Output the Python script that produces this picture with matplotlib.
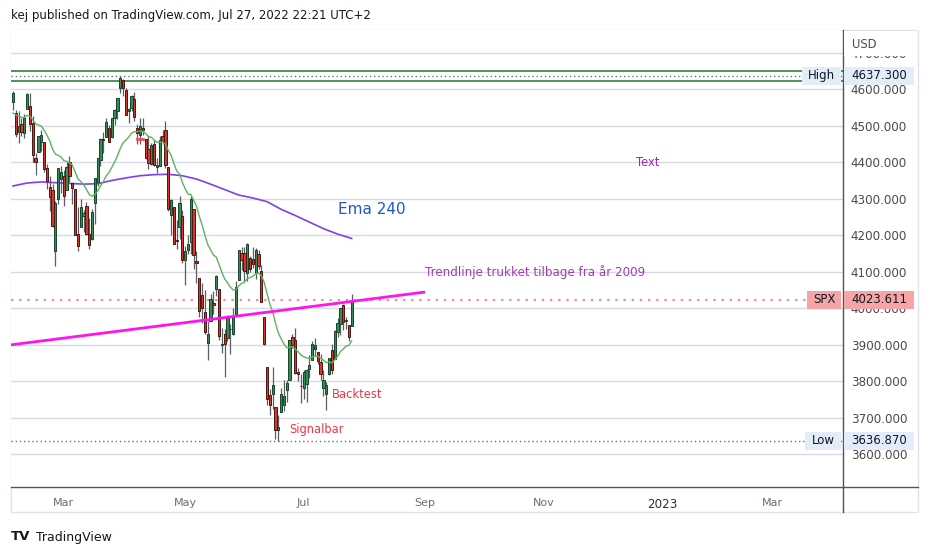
import matplotlib
matplotlib.use('Agg')
import matplotlib.pyplot as plt
import matplotlib.transforms as mtransforms
from matplotlib.patches import Rectangle
from matplotlib.lines import Line2D
import numpy as np
import pandas as pd

W, H = 930, 556

# SPX daily candles, 2 Feb 2022 - 27 Jul 2022
opens = [
    4566.39, 4535.41, 4482.79, 4505.75, 4480.02, 4547.00, 4553.24, 4506.27, 4412.61, 4429.28, 4455.75, 4456.06, 4384.57, 4332.74, 4324.93, 4155.77, 4298.38, 4354.17,
    4363.14, 4322.56, 4401.31, 4342.12, 4327.01, 4202.66, 4223.10, 4252.55, 4279.50, 4202.75, 4188.82, 4288.14, 4345.11, 4407.34, 4462.40, 4469.10, 4493.10, 4469.98, 4522.66, 4541.09, 4602.86, 4624.20, 4599.02,
    4540.32, 4547.97, 4572.45, 4494.17, 4474.65, 4494.15, 4462.64, 4437.59, 4394.30, 4449.12, 4385.63, 4390.63, 4472.26, 4489.17, 4385.83, 4255.34, 4278.14, 4186.52, 4222.58, 4253.75,
    4130.61, 4159.78, 4181.18, 4270.43, 4128.17, 4081.27, 4035.18, 3990.08, 3903.95, 3963.90, 4013.02, 4052.00, 4051.98, 3899.00, 3927.76, 3919.42, 3942.94, 3929.59, 3984.60, 4077.43, 4151.09,
    4149.78, 4095.41, 4137.57, 4134.72, 4096.47, 4147.12, 4101.65, 3974.39, 3838.15, 3762.52, 3764.05, 3728.18, 3665.90, 3715.31, 3733.89, 3774.71, 3803.47, 3920.76, 3913.00, 3825.09, 3785.99,
    3781.00, 3792.61, 3831.98, 3858.85, 3888.26, 3880.94, 3851.95, 3779.67, 3763.99, 3818.00, 3883.79, 3860.73, 3935.32, 3955.47, 4007.36, 3965.72, 3953.22, 3951.43,
]
highs = [
    4595.31, 4542.88, 4539.66, 4521.86, 4531.32, 4590.03, 4588.92, 4526.33, 4426.22, 4472.77, 4489.55, 4456.06, 4394.60, 4362.12, 4341.51, 4294.73, 4385.34, 4388.84,
    4378.45, 4401.48, 4416.78, 4342.12, 4327.01, 4276.94, 4299.40, 4268.28, 4291.01, 4247.57, 4271.05, 4357.86, 4412.67, 4465.40, 4481.75, 4522.00, 4501.07, 4520.58, 4546.03, 4575.65, 4637.30, 4627.77, 4603.07,
    4548.70, 4583.50, 4593.45, 4503.94, 4521.16, 4520.41, 4464.35, 4471.00, 4453.92, 4460.46, 4410.31, 4471.03, 4488.29, 4512.94, 4385.83, 4299.02, 4278.14, 4240.71, 4308.45, 4269.68,
    4169.81, 4200.10, 4307.66, 4270.43, 4157.69, 4081.27, 4068.82, 4049.09, 3964.80, 4038.88, 4046.46, 4090.72, 4051.98, 3945.96, 3943.42, 3981.88, 3955.68, 3999.33, 4075.14, 4158.49, 4168.34,
    4166.54, 4177.51, 4142.67, 4168.78, 4164.86, 4160.14, 4119.10, 3974.39, 3838.15, 3778.18, 3837.56, 3728.18, 3707.71, 3779.65, 3801.79, 3802.58, 3913.65, 3927.72, 3945.86, 3836.50, 3818.99,
    3829.82, 3832.19, 3870.91, 3910.63, 3918.50, 3880.94, 3873.41, 3829.44, 3796.41, 3863.62, 3902.44, 3939.81, 3974.13, 3999.29, 4012.44, 3975.30, 3953.22, 4039.56,
]
lows = [
    4544.32, 4470.39, 4451.50, 4471.47, 4465.40, 4547.00, 4484.31, 4401.41, 4364.84, 4429.28, 4429.68, 4373.81, 4327.22, 4267.11, 4221.51, 4114.65, 4286.83, 4315.12,
    4279.54, 4322.56, 4345.56, 4284.98, 4199.85, 4157.87, 4223.10, 4209.80, 4200.49, 4161.72, 4187.90, 4229.34, 4335.65, 4390.57, 4424.30, 4469.10, 4455.81, 4465.17, 4501.07, 4517.69, 4589.66, 4581.32, 4530.41,
    4507.57, 4539.21, 4514.17, 4450.04, 4450.30, 4474.60, 4408.38, 4381.34, 4392.70, 4390.77, 4370.30, 4390.63, 4448.76, 4384.47, 4267.62, 4200.82, 4175.04, 4162.90, 4188.63, 4124.28,
    4062.51, 4147.08, 4148.91, 4106.01, 4067.91, 3975.48, 3958.17, 3928.82, 3858.87, 3963.90, 3983.99, 4033.93, 3911.91, 3876.58, 3810.32, 3909.04, 3875.13, 3925.03, 3984.60, 4077.43, 4104.88,
    4073.85, 4074.37, 4098.67, 4109.18, 4080.19, 4107.20, 4017.17, 3900.16, 3734.30, 3705.68, 3722.30, 3639.77, 3636.87, 3715.31, 3717.69, 3743.52, 3803.47, 3889.66, 3820.14, 3799.02, 3738.67,
    3752.10, 3742.06, 3809.37, 3858.85, 3869.34, 3847.22, 3802.36, 3759.07, 3721.56, 3817.18, 3818.63, 3860.73, 3922.03, 3927.64, 3938.85, 3943.46, 3910.74, 3951.43,
]
closes = [
    4589.38, 4477.44, 4500.53, 4483.87, 4521.54, 4587.18, 4504.08, 4418.64, 4401.67, 4471.07, 4475.01, 4380.26, 4348.87, 4304.76, 4225.50, 4288.70, 4384.65, 4373.94,
    4306.26, 4386.54, 4363.49, 4328.87, 4201.09, 4170.70, 4277.88, 4259.52, 4204.31, 4173.11, 4262.45, 4357.86, 4411.67, 4463.12, 4461.18, 4511.61, 4456.24, 4520.16, 4543.06, 4575.52, 4631.60, 4602.45, 4530.41,
    4545.86, 4582.64, 4525.12, 4481.15, 4500.21, 4488.28, 4412.53, 4397.45, 4446.59, 4392.59, 4391.69, 4462.21, 4459.45, 4393.66, 4271.78, 4296.12, 4175.20, 4183.96, 4287.50, 4131.93,
    4155.38, 4175.48, 4300.17, 4146.87, 4123.34, 3991.24, 4001.05, 3935.18, 3930.08, 4023.89, 4008.01, 4088.85, 3923.68, 3900.79, 3901.36, 3973.75, 3941.48, 3978.73, 4057.84, 4158.24, 4132.15,
    4101.23, 4176.82, 4108.54, 4121.43, 4160.68, 4115.77, 4017.82, 3900.86, 3749.63, 3735.48, 3789.99, 3666.77, 3674.84, 3764.79, 3759.89, 3795.73, 3911.74, 3900.11, 3821.55, 3818.83, 3785.38,
    3825.33, 3831.39, 3845.08, 3902.62, 3899.38, 3854.43, 3818.80, 3801.78, 3790.38, 3863.16, 3830.85, 3936.69, 3959.90, 3998.95, 3961.63, 3966.84, 3921.05, 4023.61,
]
# closes Dec 2021 - 1 Feb 2022, only to warm up the 20 day EMA
warmup_closes = [
    4513.04, 4577.10, 4538.43, 4591.67, 4686.75, 4701.21, 4667.45, 4712.02, 4668.97, 4634.09, 4709.85,
    4668.67, 4620.64, 4568.02, 4649.23, 4696.56, 4725.79, 4791.19, 4786.35, 4793.06, 4778.73, 4766.18,
    4796.56, 4793.54, 4700.58, 4696.05, 4677.03, 4670.29, 4713.07, 4726.35, 4659.03, 4662.85, 4577.11,
    4532.76, 4482.73, 4397.94, 4410.13, 4356.45, 4349.93, 4326.51, 4431.85, 4515.55, 4546.54,
]

# Ema 240
ema_dates = ['2022-02-02', '2022-02-09', '2022-02-16', '2022-02-24', '2022-03-03', '2022-03-10', '2022-03-17',
             '2022-03-24', '2022-03-31', '2022-04-07', '2022-04-14', '2022-04-22', '2022-04-29', '2022-05-06',
             '2022-05-13', '2022-05-20', '2022-05-27', '2022-06-06', '2022-06-13', '2022-06-21', '2022-06-28',
             '2022-07-06', '2022-07-13', '2022-07-20', '2022-07-27']
ema_values = [4335, 4343, 4346, 4344, 4342, 4340, 4341, 4350, 4357, 4363, 4366, 4367, 4363, 4354,
              4340, 4325, 4310, 4302, 4292, 4271, 4254, 4236, 4218, 4203, 4191]

trend_dates = ['2022-02-01', '2022-09-01']
trend_prices = [3899, 4044]
green_levels = [4650, 4622]
hi_price, lo_price, last_price = 4637.30, 3636.87, 4023.611

month_dates = ['2022-03-01', '2022-05-01', '2022-07-01', '2022-09-01', '2022-11-01', '2023-01-01', '2023-03-01']
month_labels = ['Mar', 'May', 'Jul', 'Sep', 'Nov', '2023', 'Mar']
price_ticks = np.arange(3600, 4701, 100)

holidays = ['2022-01-17', '2022-02-21', '2022-04-15', '2022-05-30', '2022-06-20', '2022-07-04', '2022-09-05',
            '2022-11-24', '2022-12-26', '2023-01-02', '2023-01-16', '2023-02-20', '2023-04-07']
cal = pd.bdate_range('2022-01-03', '2023-04-28', freq='C', holidays=holidays)
start = cal.searchsorted(pd.Timestamp('2022-02-02'))

def bar(d):
    return cal.searchsorted(pd.Timestamp(d)) - start

o = np.array(opens); h = np.array(highs); l = np.array(lows); c = np.array(closes)
x = np.arange(len(c))
ema20 = pd.Series(warmup_closes + closes).ewm(span=20, adjust=False).mean().to_numpy()[len(warmup_closes):]

fig = plt.figure(figsize=(W / 100, H / 100), dpi=100)
fig.patch.set_facecolor('white')

def fx(px): return px / W
def fy(py): return 1 - py / H

ax = fig.add_axes([fx(11), fy(487), (843 - 11) / W, (487 - 30) / H])
ax.set_xlim(-0.71, 294.1)
ax.set_ylim(3509.5, 4762.6)
px_per_usd = 457 / (4762.6 - 3509.5)

for s in ['top', 'left']:
    ax.spines[s].set_visible(False)
for s in ['right', 'bottom']:
    ax.spines[s].set_color('#50535E')
    ax.spines[s].set_linewidth(1)

for p in price_ticks:
    ax.axhline(p, color='#D9D9E3', lw=1, zorder=0)

# green horizontals and level lines
for p in green_levels:
    ax.axhline(p, color='#3E8E41', lw=1.3, zorder=2)
ax.axhline(hi_price, color='#6F7180', lw=1, ls=(0, (1, 2)), zorder=2)
ax.axhline(lo_price, color='#6F7180', lw=1, ls=(0, (1, 2)), zorder=2)
ax.axhline(last_price, color='#F4868C', lw=1.4, ls=(0, (1.2, 3)), zorder=2)

# moving averages
ax.plot([bar(d) for d in ema_dates], ema_values, color='#7E3FF2', lw=1.2, zorder=3)
ax.plot(x, ema20, color='#5DB460', lw=1, zorder=6)

# candles
up = c >= o
body_lo = np.minimum(o, c)
body_h = np.maximum(np.abs(c - o), 1.5)
ax.vlines(x, l, h, color='#5B5E66', lw=0.9, zorder=4)
ax.bar(x[up], body_h[up], bottom=body_lo[up], width=0.8, color='#3A8A58', edgecolor='#17452A', lw=0.7, zorder=5)
ax.bar(x[~up], body_h[~up], bottom=body_lo[~up], width=0.8, color='#CC3B2E', edgecolor='#4E1510', lw=0.7, zorder=5)

# trendline and drawings
ax.plot([bar(d) for d in trend_dates], trend_prices, color='#FF14F0', lw=2, zorder=7, solid_capstyle='butt')
ax.plot([bar('2022-04-06'), bar('2022-04-08')], [4465, 4465], color='#F0505C', lw=2, zorder=6)

ax.text(bar('2022-07-20'), 4271, 'Ema 240', color='#2157D0', fontsize=11, va='center', ha='left', zorder=8)
ax.text(bar('2022-12-23'), 4398, 'Text', color='#9C27B0', fontsize=8.3, va='center', ha='center', zorder=8)
ax.text(bar('2022-09-01'), 4100, 'Trendlinje trukket tilbage fra år 2009', color='#A33AB6', fontsize=8.6,
        va='center', ha='left', zorder=8)
ax.text(bar('2022-07-18'), 3762, 'Backtest', color='#F23645', fontsize=8.3, va='center', ha='left', zorder=8)
ax.text(bar('2022-06-24'), 3666, 'Signalbar', color='#F23645', fontsize=8.3, va='center', ha='left', zorder=8)

# axes ticks
ax.yaxis.tick_right()
ax.set_yticks(price_ticks)
ax.set_yticklabels([f'{p:.3f}' for p in price_ticks])
ax.tick_params(axis='y', length=0, pad=5.5, labelsize=8.6, labelcolor='#4A4A4A')
ax.set_xticks([bar(d) for d in month_dates])
ax.set_xticklabels(month_labels)
ax.tick_params(axis='x', length=0, pad=8, labelsize=8, labelcolor='#6A6D78')
ax.get_xticklabels()[5].set_color('#2A2E39')
ax.get_xticklabels()[5].set_fontsize(8.6)

# price tags on the scale
bt = mtransforms.blended_transform_factory(fig.transFigure, ax.transData)
def tag(price, x0, x1, text, fc):
    hh = 18 / px_per_usd
    ax.add_patch(Rectangle((fx(x0), price - hh / 2), (x1 - x0) / W, hh, transform=bt,
                           fc=fc, ec='none', clip_on=False, zorder=10))
    ax.text(fx((x0 + x1) / 2), price, text, transform=bt, ha='center', va='center',
            fontsize=8.5, color='#131722', zorder=11, clip_on=False)

tag(hi_price, 802, 841, 'High', '#E3EDFA')
tag(hi_price, 844, 914, f'{hi_price:.3f}', '#E3EDFA')
tag(last_price, 807, 841, 'SPX', '#F7A4A7')
tag(last_price, 844, 914, f'{last_price:.3f}', '#F7A4A7')
tag(lo_price, 805, 841, 'Low', '#E3EDFA')
tag(lo_price, 844, 914, f'{lo_price:.3f}', '#E3EDFA')

# frame, scale header, extensions
fig.add_artist(Rectangle((fx(844), fy(56)), 73 / W, 25 / H, transform=fig.transFigure,
                         fc='white', ec='none', zorder=20))
fig.text(fx(852), fy(44), 'USD', fontsize=8.3, color='#4A4A4A', va='center', zorder=21)
fig.add_artist(Rectangle((fx(11), fy(512)), (918 - 11) / W, (512 - 30) / H, transform=fig.transFigure,
                         fill=False, ec='#E0E3EB', lw=1, zorder=0))
fig.add_artist(Line2D([fx(843), fx(918)], [fy(487), fy(487)], color='#50535E', lw=1))
fig.add_artist(Line2D([fx(843), fx(843)], [fy(487), fy(512)], color='#50535E', lw=1))

fig.text(fx(11), fy(15), 'kej published on TradingView.com, Jul 27, 2022 22:21 UTC+2',
         fontsize=8.5, color='#131722', va='center')
fig.text(fx(11), fy(537), 'TV', fontsize=9.5, fontweight='bold', color='#131722', va='center')
fig.text(fx(36), fy(537), 'TradingView', fontsize=9, color='#131722', va='center')

fig.savefig('out.png', dpi=100, facecolor='white')
